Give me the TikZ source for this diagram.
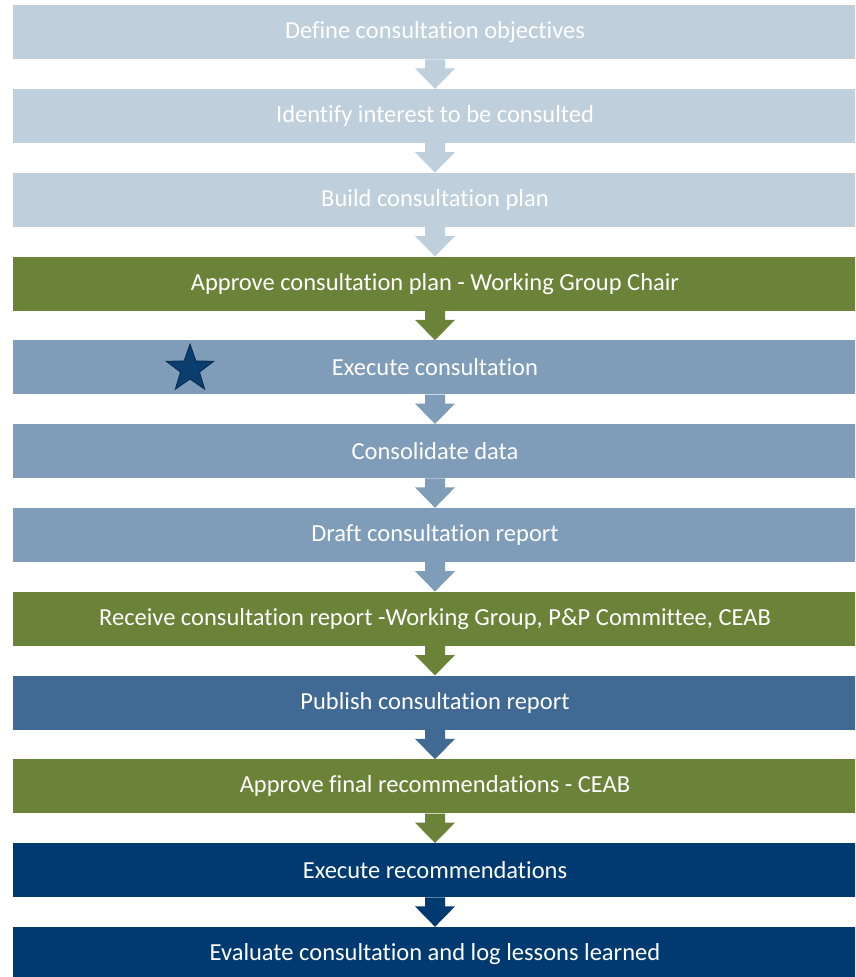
\documentclass[tikz,border=0pt]{standalone}
\usepackage{fontspec}
\setmainfont[Ligatures=NoCommon]{Carlito}
\usetikzlibrary{calc,shapes.geometric}
\definecolor{cLight}{HTML}{BFCFDC}
\definecolor{cGreen}{HTML}{6B8239}
\definecolor{cMid}{HTML}{7F9DB9}
\definecolor{cPub}{HTML}{406A93}
\definecolor{cNavy}{HTML}{003A70}
\definecolor{cStar}{HTML}{0B3D6E}
\definecolor{cStarEdge}{HTML}{062A4E}
\tikzset{
  stepbox/.style={rectangle, minimum width=844pt, minimum height=54pt, inner sep=0pt,
    text=white, font=\fontsize{24.5}{28}\selectfont, anchor=north},
  pal/.style={fill=#1}
}
\newcommand{\flowarrow}[3]{%
  \fill[#3] ($(#1.south)+(-10pt,0)$) -- ($(#1.south)+(10pt,0)$) -- ($(#1.south)+(10pt,-9pt)$)
    -- ($(#1.south)+(20pt,-9pt)$) -- (#2.north) -- ($(#1.south)+(-20pt,-9pt)$)
    -- ($(#1.south)+(-10pt,-9pt)$) -- cycle;}
\begin{document}
\begin{tikzpicture}[x=1pt,y=1pt]
\useasboundingbox (0,0) rectangle (855,-977);
\begin{scope}
\clip (0,0) rectangle (855,-977);
\node[stepbox, fill=cLight] (b1) at (435,-5) {Define consultation objectives};
\node[stepbox, fill=cLight] (b2) at (435,-88.8) {Identify interest to be consulted};
\node[stepbox, fill=cLight] (b3) at (435,-172.6) {Build consultation plan};
\node[stepbox, fill=cGreen] (b4) at (435,-256.4) {Approve consultation plan - Working Group Chair};
\node[stepbox, fill=cMid] (b5) at (435,-340.2) {Execute consultation};
\node[stepbox, fill=cMid] (b6) at (435,-424) {Consolidate data};
\node[stepbox, fill=cMid] (b7) at (435,-507.8) {Draft consultation report};
\node[stepbox, fill=cGreen] (b8) at (435,-591.6) {Receive consultation report -Working Group, P\&P Committee, CEAB};
\node[stepbox, fill=cPub] (b9) at (435,-675.4) {Publish consultation report};
\node[stepbox, fill=cGreen] (b10) at (435,-759.2) {Approve final recommendations - CEAB};
\node[stepbox, fill=cNavy] (b11) at (435,-843) {Execute recommendations};
\node[stepbox, fill=cNavy] (b12) at (435,-926.8) {Evaluate consultation and log lessons learned};
\flowarrow{b1}{b2}{cLight}
\flowarrow{b2}{b3}{cLight}
\flowarrow{b3}{b4}{cLight}
\flowarrow{b4}{b5}{cGreen}
\flowarrow{b5}{b6}{cMid}
\flowarrow{b6}{b7}{cMid}
\flowarrow{b7}{b8}{cMid}
\flowarrow{b8}{b9}{cGreen}
\flowarrow{b9}{b10}{cPub}
\flowarrow{b10}{b11}{cGreen}
\flowarrow{b11}{b12}{cNavy}
\node[star, star points=5, star point ratio=2.5, fill=cStar, draw=cStarEdge, line width=0.8pt,
  minimum size=50pt, inner sep=0pt] (st) at (190,-369) {};
\end{scope}
\end{tikzpicture}
\end{document}
